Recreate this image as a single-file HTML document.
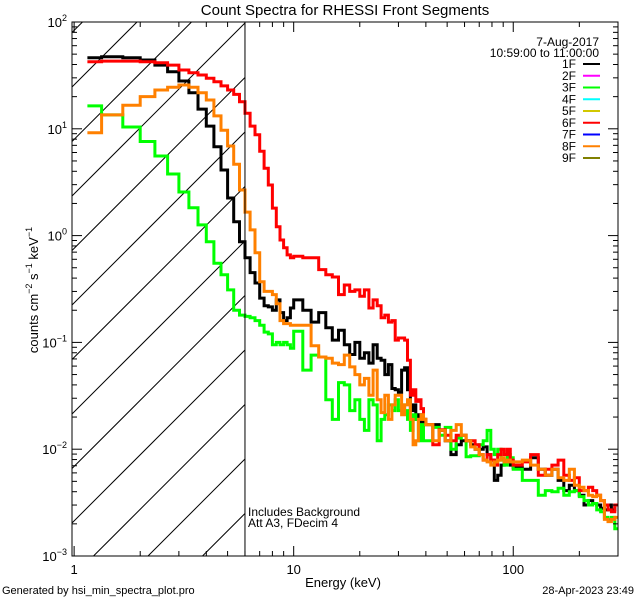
<!DOCTYPE html>
<html><head><meta charset="utf-8"><style>
html,body{margin:0;padding:0;background:#fff;width:640px;height:600px;overflow:hidden;}
svg{display:block;overflow:hidden;font-family:"Liberation Sans",sans-serif;}
</style></head><body>
<svg id="chart" width="640" height="600" viewBox="0 0 640 600" xmlns="http://www.w3.org/2000/svg">
<rect x="0" y="0" width="640" height="600" fill="#fff"/>
<text x="345" y="15" font-size="15" text-anchor="middle">Count Spectra for RHESSI Front Segments</text>
<g id="hatch"></g>
<g id="series"></g>
<g id="axes"></g>
<text x="343" y="587" font-size="13" text-anchor="middle">Energy (keV)</text>
<text transform="translate(38,290) rotate(-90)" font-size="13" text-anchor="middle">counts cm<tspan font-size="9" dy="-6">−2</tspan><tspan dy="6"> s</tspan><tspan font-size="9" dy="-6">−1</tspan><tspan dy="6"> keV</tspan><tspan font-size="9" dy="-6">−1</tspan></text>
<text x="248" y="516" font-size="12">Includes Background</text>
<text x="248" y="527" font-size="12">Att A3, FDecim  4</text>
<text x="2" y="594" font-size="11">Generated by hsi_min_spectra_plot.pro</text>
<text x="634" y="594" font-size="11" text-anchor="end">28-Apr-2023 23:49</text>
<text x="599" y="46" font-size="12" text-anchor="end">7-Aug-2017</text>
<text x="599" y="57" font-size="12" text-anchor="end">10:59:00 to 11:00:00</text>
<g id="legend"></g>
</svg>
<script>
const edges = [1.15,1.3333,1.6667,2,2.3333,2.6667,3,3.3333,3.6667,4,4.3333,4.6667,5,5.3333,5.6667,6,6.3333,6.6667,7,7.3333,7.6667,8,8.3333,8.6667,9,9.3333,9.6667,10,
11,12,13,14,15,16,17,18,19,20,21,22,23,24,25,26,27,28,29,30,31,32,33,34,35,36,37,38,39,40,
43,46,49,52,55,58,61,64,67,70,73,76,79,82,85,88,91,94,97,100,
110,120,130,140,150,160,170,180,190,200,210,220,230,240,250,260,270,280,290,300];
const black1F = [46.3,47.3,46.3,44.1,39.5,34.2,28.0,21.8,15.3,10.6,6.8,4.11,2.25,1.35,0.877,0.62,0.45,0.36,0.26,0.22,0.215,0.2,0.25,0.19,0.16,0.17,0.21,
0.25,0.2,0.155,0.19,0.137,0.105,0.13,0.095,0.077,0.1,0.071,0.08,0.064,0.095,0.071,0.068,0.05,0.062,0.037,0.036,0.034,0.055,0.058,0.036,0.023,0.026,0.019,0.021,0.017,0.019,
0.017,0.017,0.015,0.012,0.0089,0.011,0.012,0.012,0.011,0.01,0.01,0.0105,0.0089,0.0079,0.0051,0.0057,0.0071,0.0076,0.0079,0.0071,
0.0067,0.0065,0.0083,0.0065,0.0057,0.0065,0.0051,0.0041,0.0046,0.0041,0.0037,0.003,0.0033,0.0031,0.003,0.0028,0.0027,0.003,0.0027,0.003];
const green3F = [16.4,13.5,10.4,7.6,5.56,3.77,2.56,1.82,1.26,0.877,0.55,0.43,0.31,0.2,0.18,0.175,0.17,0.16,0.145,0.125,0.12,0.095,0.1,0.095,0.1,0.095,0.088,
0.127,0.055,0.076,0.073,0.029,0.019,0.042,0.04,0.023,0.029,0.019,0.015,0.029,0.026,0.012,0.019,0.021,0.026,0.023,0.029,0.023,0.026,0.023,0.019,0.015,0.021,0.019,0.012,0.017,0.012,
0.012,0.016,0.0135,0.016,0.01,0.0127,0.0135,0.0085,0.0087,0.0087,0.011,0.012,0.015,0.01,0.0089,0.01,0.0079,0.0071,0.0089,0.0083,
0.0065,0.0051,0.0051,0.0037,0.0041,0.004,0.0043,0.0037,0.004,0.0041,0.0036,0.0033,0.003,0.0031,0.0027,0.0026,0.0023,0.0022,0.0023,0.0018];
const red6F = [42.5,43,43,42.5,41.6,39.5,35.5,33.5,31.9,29.7,27.6,25.2,23.1,21.0,17.9,14.0,10.6,8.8,6.15,4.27,2.98,1.81,1.21,0.91,0.77,0.66,0.62,
0.64,0.62,0.62,0.48,0.43,0.41,0.28,0.345,0.3,0.31,0.27,0.31,0.21,0.25,0.22,0.17,0.18,0.155,0.16,0.105,0.11,0.11,0.105,0.068,0.032,0.036,0.028,0.029,0.024,0.019,
0.017,0.011,0.0152,0.0135,0.012,0.0135,0.0135,0.012,0.012,0.011,0.0089,0.0079,0.0089,0.0079,0.0071,0.0089,0.01,0.0089,0.01,0.0079,
0.0071,0.0076,0.0089,0.0057,0.0065,0.0071,0.0079,0.0057,0.0051,0.0054,0.0041,0.0041,0.0044,0.0041,0.0037,0.0033,0.003,0.0027,0.0026,0.003];
const orange8F = [9.2,13.5,16.6,20,23.1,24.5,25.7,24.5,21.8,18.6,13.2,9.7,6.9,4.65,2.67,1.66,1.13,0.69,0.37,0.3,0.3,0.28,0.23,0.16,0.15,0.15,0.145,
0.145,0.145,0.093,0.073,0.071,0.064,0.062,0.076,0.059,0.05,0.04,0.046,0.032,0.055,0.029,0.022,0.032,0.019,0.026,0.032,0.032,0.021,0.026,0.029,0.019,0.011,0.012,0.019,0.021,0.019,
0.017,0.012,0.015,0.012,0.015,0.017,0.0135,0.012,0.0105,0.01,0.0089,0.0079,0.0076,0.0071,0.0076,0.0079,0.0083,0.0076,0.0079,0.0076,
0.0076,0.0079,0.0071,0.0065,0.0057,0.0065,0.0054,0.0051,0.0065,0.0046,0.0044,0.0041,0.0037,0.0036,0.0037,0.0033,0.0022,0.0021,0.0022,0.0023];
const xTickLabels = ["1","10","100"];
const xTickValues = [1,10,100];
const yTickExps = [-3,-2,-1,0,1,2];
const legendLabels = ["1F","2F","3F","4F","5F","6F","7F","8F","9F"];
const legendColors = ["#000000","#ff00ff","#00ff00","#00ffff","#d2c800","#ff0000","#0000ff","#ff8000","#808000"];

const NS = "http://www.w3.org/2000/svg";
const L = 72, R = 618, T = 22, B = 556;
const XMIN = 0.978, XMAX = 300, YMIN = 1e-3, YMAX = 100;
function xs(e){ return L + (Math.log10(e) - Math.log10(XMIN)) / (Math.log10(XMAX) - Math.log10(XMIN)) * (R - L); }
function ys(v){ return B - (Math.log10(v) - Math.log10(YMIN)) / (Math.log10(YMAX) - Math.log10(YMIN)) * (B - T); }
function mk(tag, attrs, parent){ const el = document.createElementNS(NS, tag); for (const k in attrs) el.setAttribute(k, attrs[k]); parent.appendChild(el); return el; }

const defs = mk('defs', {}, document.getElementById('chart'));
const cp = mk('clipPath', {id:'plotclip'}, defs);
mk('rect', {x:L, y:T, width:R-L, height:B-T}, cp);

const hatch = document.getElementById('hatch');
const X6 = xs(6);
for (let c = 159 - 54.5*3; c < 900; c += 54.5) {
  const xa = Math.max(L, c - B), xb = Math.min(X6, c - T);
  if (xb <= xa) continue;
  const ln = mk('line', {x1:xa, y1:c-xa, x2:xb, y2:c-xb, stroke:'#000', 'stroke-width':1}, hatch);
  
  
}
const vl = mk('line', {x1:X6, y1:T, x2:X6, y2:B, stroke:'#000', 'stroke-width':1}, hatch.parentNode);



const sg = document.getElementById('series');
sg.setAttribute('clip-path','url(#plotclip)');
function drawSeries(vals, color, name){
  let d = '';
  for (let i = 0; i < vals.length; i++) {
    const x0 = xs(edges[i]).toFixed(1), x1 = xs(edges[i+1]).toFixed(1), y = ys(vals[i]).toFixed(1);
    d += (i === 0 ? 'M' : 'L') + x0 + ' ' + y + ' L' + x1 + ' ' + y + ' ';
  }
  const p = mk('path', {d:d, fill:'none', stroke:color, 'stroke-width':3, 'stroke-linejoin':'miter'}, sg);
  
  
}
drawSeries(black1F, '#000000', 'series-1f');
drawSeries(green3F, '#00ff00', 'series-3f');
drawSeries(red6F, '#ff0000', 'series-6f');
drawSeries(orange8F, '#ff8000', 'series-8f');

const ax = document.getElementById('axes');
mk('rect', {x:L, y:T, width:R-L, height:B-T, fill:'none', stroke:'#000', 'stroke-width':1}, ax);
for (let dec = 1; dec <= 100; dec *= 10) {
  for (let m = 1; m <= 9; m++) {
    const e = dec*m;
    if (e < XMIN || e > XMAX) continue;
    const x = xs(e), len = (m === 1) ? 10 : 5;
    const t1 = mk('line', {x1:x, y1:B, x2:x, y2:B-len, stroke:'#000'}, ax);
    
    
    mk('line', {x1:x, y1:T, x2:x, y2:T+len, stroke:'#000'}, ax);
  }
}
xTickValues.forEach((v, i) => {
  const t = mk('text', {x:xs(v), y:B+18, 'font-size':13, 'text-anchor':'middle'}, ax);
  t.textContent = xTickLabels[i];
  
  
});
yTickExps.forEach(ex => {
  for (let m = 1; m <= 9; m++) {
    const v = m*Math.pow(10, ex);
    if (v > YMAX*1.0001) continue;
    const y = ys(v), len = (m === 1) ? 10 : 5;
    const t1 = mk('line', {x1:L, y1:y, x2:L+len, y2:y, stroke:'#000'}, ax);
    
    
    mk('line', {x1:R, y1:y, x2:R-len, y2:y, stroke:'#000'}, ax);
  }
  const t = mk('text', {x:L-5, y:ys(Math.pow(10,ex))+5, 'font-size':13, 'text-anchor':'end'}, ax);
  
  
  const a = mk('tspan', {}, t); a.textContent = '10';
  const b = mk('tspan', {'font-size':9, dy:-6}, t); b.textContent = String(ex).replace('-', '−');
});

const lg = document.getElementById('legend');
legendLabels.forEach((lab, i) => {
  const y = 64 + i*11.75;
  const t = mk('text', {x:576, y:y+4, 'font-size':12, 'text-anchor':'end'}, lg);
  t.textContent = lab;
  
  
  const l = mk('line', {x1:583, y1:y, x2:600, y2:y, stroke:legendColors[i], 'stroke-width':2}, lg);
  
  
});
</script>
</body></html>
